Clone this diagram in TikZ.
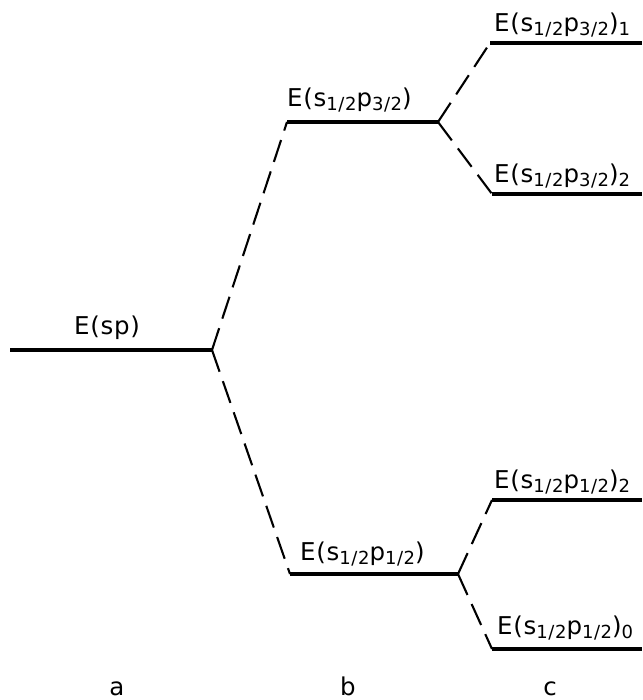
\documentclass[tikz,border=0pt]{standalone}
\usepackage{fontspec}
\setmainfont{DejaVu Sans}[LetterSpace=3]

% lowered, smaller index for the state labels
\newcommand\lsub[1]{\raisebox{-4pt}{\fontsize{18}{18}\selectfont #1}}

\begin{document}
\begin{tikzpicture}[x=1pt,y=-1pt,
  level/.style={line width=4.4pt},
  link/.style={line width=2.1pt, dash pattern=on 23pt off 10pt},
  lab/.style={anchor=base west, inner sep=0pt, font=\fontsize{24.5}{24.5}\selectfont},
  col/.style={anchor=base, inner sep=0pt, font=\fontsize{24.5}{24.5}\selectfont}]

\useasboundingbox (0,0) rectangle (642,700);

% level end points
\coordinate (a0)  at (10,350);  \coordinate (a1)  at (212,350);
\coordinate (bu0) at (287,122); \coordinate (bu1) at (438,122);
\coordinate (bl0) at (290,574); \coordinate (bl1) at (458,574);
\coordinate (c10) at (490,43);  \coordinate (c11) at (642,43);
\coordinate (c20) at (492,194); \coordinate (c21) at (642,194);
\coordinate (c30) at (492,500); \coordinate (c31) at (642,500);
\coordinate (c40) at (492,649); \coordinate (c41) at (642,649);

% energy levels
\draw[level] (a0) -- (a1);
\draw[level] (bu0) -- (bu1);
\draw[level] (bl0) -- (bl1);
\draw[level] (c10) -- (c11);
\draw[level] (c20) -- (c21);
\draw[level] (c30) -- (c31);
\draw[level] (c40) -- (c41);

% splittings
\draw[link] (a1) -- (bu0);
\draw[link] (a1) -- (bl0);
\draw[link] (bu1) -- (c10);
\draw[link] (bu1) -- (c20);
\draw[link] (bl1) -- (c30);
\draw[link] (bl1) -- (c40);

% labels
\node[lab] (la)  at (74,334)  {E(sp)};
\node[lab] (lbu) at (287,107) {E(s\lsub{1/2}p\lsub{3/2})};
\node[lab] (lbl) at (300,560) {E(s\lsub{1/2}p\lsub{1/2})};
\node[lab] (lc1) at (494,32)  {E(s\lsub{1/2}p\lsub{3/2})\lsub{1}};
\node[lab] (lc2) at (494,183) {E(s\lsub{1/2}p\lsub{3/2})\lsub{2}};
\node[lab] (lc3) at (494,488) {E(s\lsub{1/2}p\lsub{1/2})\lsub{2}};
\node[lab] (lc4) at (497,634) {E(s\lsub{1/2}p\lsub{1/2})\lsub{0}};

% column captions
\node[col] (ca) at (117,695) {a};
\node[col] (cb) at (348,695) {b};
\node[col] (cc) at (550,695) {c};
\end{tikzpicture}
\end{document}
